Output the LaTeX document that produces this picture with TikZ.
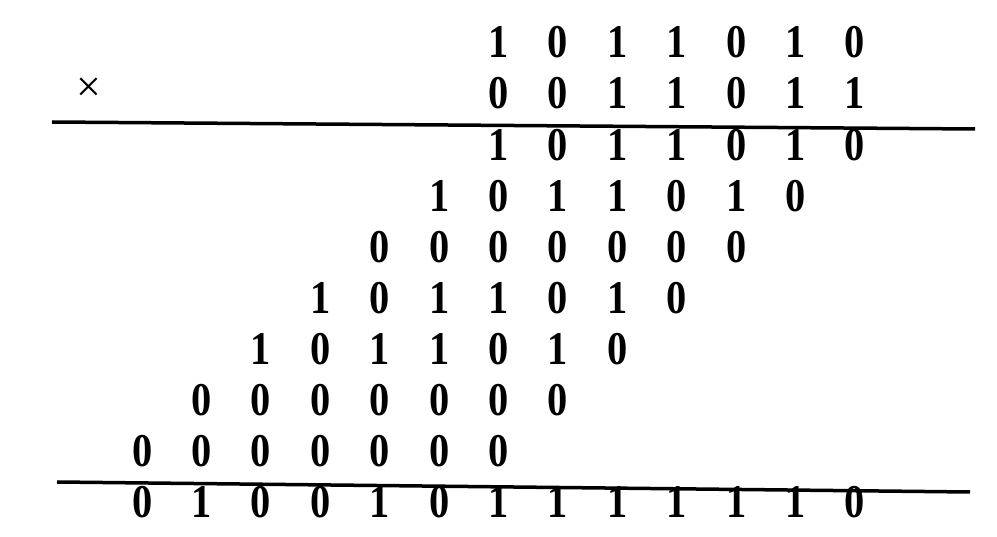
\documentclass[tikz,border=0pt]{standalone}
\usepackage{fontspec}
\setmainfont{Liberation Serif}
\newfontfamily\digitfont[FakeStretch=0.86]{Liberation Serif}
\newcommand{\digitrow}[4]{%
  \foreach \d [count=\i from 0] in {#4} {%
    \pgfmathsetmacro{\xx}{855-59.4*(#3-\i)}%
    \node[digit] (#1-\i) at (\xx,#2) {\d};%
  }%
}
\begin{document}
\begin{tikzpicture}[x=1pt,y=-1pt,
  digit/.style={inner sep=0pt, font=\digitfont\bfseries\fontsize{47}{47}\selectfont, anchor=center},
  sign/.style={inner sep=0pt, font=\fontsize{44}{44}\selectfont},
  rule/.style={line width=3.5pt}]
\useasboundingbox (0,0) rectangle (997,537);
% operands
\digitrow{ra}{42}{6}{1,0,1,1,0,1,0}
\digitrow{rb}{93}{6}{0,0,1,1,0,1,1}
\node[sign] (times) at (89,90) {×};
% partial products
\digitrow{p0}{145}{6}{1,0,1,1,0,1,0}
\digitrow{p1}{196}{7}{1,0,1,1,0,1,0}
\digitrow{p2}{247}{8}{0,0,0,0,0,0,0}
\digitrow{p3}{298}{9}{1,0,1,1,0,1,0}
\digitrow{p4}{349}{10}{1,0,1,1,0,1,0}
\digitrow{p5}{400}{11}{0,0,0,0,0,0,0}
\digitrow{p6}{451}{12}{0,0,0,0,0,0,0}
% result
\digitrow{res}{502}{12}{0,1,0,0,1,0,1,1,1,1,1,1,0}
% rules
\coordinate (l1a) at (52,122);
\coordinate (l1b) at (975,129);
\coordinate (l2a) at (57,482);
\coordinate (l2b) at (970,492);
\draw[rule] (l1a) -- (l1b);
\draw[rule] (l2a) -- (l2b);
\end{tikzpicture}
\end{document}
